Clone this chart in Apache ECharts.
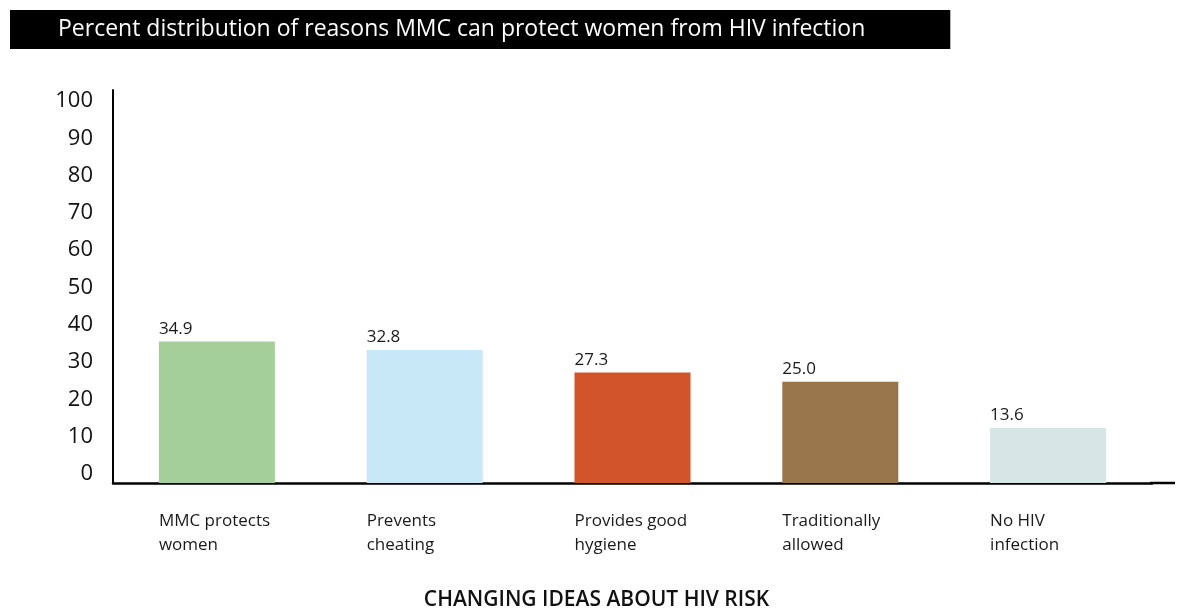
<!DOCTYPE html>
<html>
<head>
<meta charset="utf-8">
<script src="https://cdn.jsdelivr.net/npm/echarts@6/dist/echarts.min.js"></script>
<style>
    html, body { margin: 0; padding: 0; background: #fff; }
    #chart { width: 1193px; height: 609px; }
</style>
</head>
<body>
<div id="chart"></div>
<script>
// data
var categories = ['MMC protects\nwomen', 'Prevents\ncheating', 'Provides good\nhygiene', 'Traditionally\nallowed', 'No HIV\ninfection'];
var values = [34.9, 32.8, 27.3, 25.0, 13.6];
var barColors = ['#a5cf9a', '#c7e8f7', '#d2552a', '#98764a', '#d6e5e5'];
var yTicks = [0, 10, 20, 30, 40, 50, 60, 70, 80, 90, 100];

var font = '"Open Sans", Lato, sans-serif';

var myChart = echarts.init(document.getElementById('chart'));

var option = {
    animation: false,
    title: [{
        text: 'Percent distribution of reasons MMC can protect women from HIV infection',
        left: 10,
        top: 10,
        backgroundColor: '#000',
        padding: [7, 85, 8, 48],
        textStyle: { color: '#fff', fontSize: 23, lineHeight: 24, fontWeight: 'normal', fontFamily: font }
    }, {
        text: 'CHANGING IDEAS ABOUT HIV RISK',
        left: 'center',
        top: 590,
        padding: 0,
        textStyle: { color: '#111', fontSize: 21, fontWeight: 600, fontFamily: font }
    }],
    grid: [
        // bars
        { left: 113, right: 41, top: 90, bottom: 126 },
        // tick labels only
        { left: 113, right: 41, top: 101, bottom: 135 }
    ],
    xAxis: [{
        type: 'category',
        gridIndex: 0,
        data: categories,
        axisLine: { lineStyle: { color: '#000', width: 2.5 } },
        axisTick: { show: false },
        axisLabel: {
            margin: 26,
            formatter: function(v) {
                return v.split('\n').map(function(s) { return '{a|' + s + '}'; }).join('\n');
            },
            rich: {
                a: { width: 116, align: 'left', fontSize: 17, lineHeight: 24, color: '#1a1a1a', fontFamily: font }
            }
        }
    }, {
        type: 'category',
        gridIndex: 1,
        data: categories,
        show: false
    }],
    yAxis: [{
        type: 'value',
        gridIndex: 0,
        min: 0,
        max: 97,
        splitLine: { show: false },
        axisTick: { show: false },
        axisLabel: { show: false },
        axisLine: { show: true, lineStyle: { color: '#000', width: 2 } }
    }, {
        type: 'value',
        gridIndex: 1,
        min: yTicks[0],
        max: yTicks[yTicks.length - 1],
        interval: 10,
        splitLine: { show: false },
        axisTick: { show: false },
        axisLine: { show: false },
        axisLabel: { margin: 20, fontSize: 22, color: '#111', fontFamily: font }
    }],
    graphic: [{
        type: 'line',
        shape: { x1: 1150, y1: 483, x2: 1175, y2: 483 },
        style: { stroke: '#000', lineWidth: 2.5 }
    }],
    series: [{
        type: 'bar',
        xAxisIndex: 0,
        yAxisIndex: 0,
        barWidth: 116,
        data: values.map(function(v, i) {
            return { value: v, itemStyle: { color: barColors[i] } };
        }),
        label: {
            show: true,
            position: [0, -4],
            align: 'left',
            verticalAlign: 'bottom',
            fontSize: 17,
            color: '#1a1a1a',
            fontFamily: font,
            formatter: function(p) { return p.value.toFixed(1); }
        }
    }]
};

myChart.setOption(option);
</script>
</body>
</html>
